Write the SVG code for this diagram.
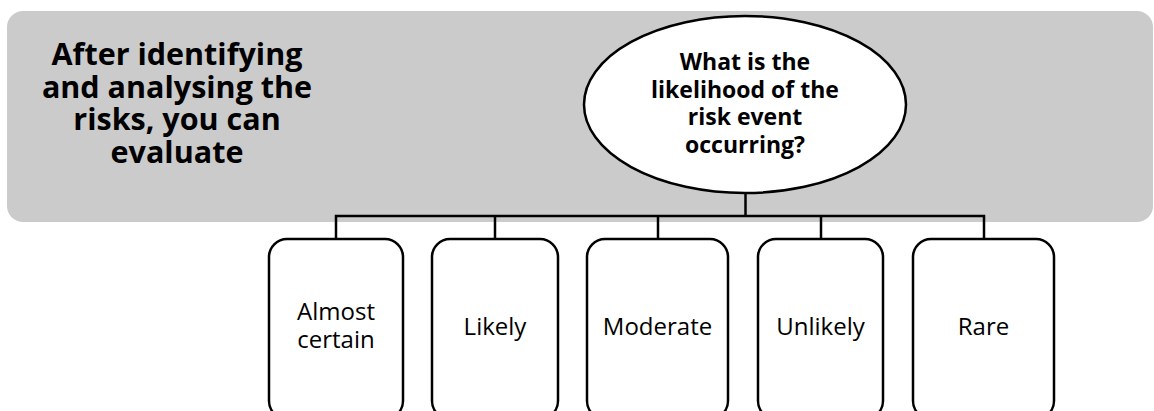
<svg xmlns="http://www.w3.org/2000/svg" width="1154" height="411" viewBox="0 0 1154 411">
  <style>
    .panel { fill: #cbcbcb; }
    .bubble { fill: #ffffff; stroke: #000000; stroke-width: 2.5; }
    .box { fill: #ffffff; stroke: #000000; stroke-width: 2.5; }
    .wire { fill: none; stroke: #000000; stroke-width: 2.5; }
    .title { font-family: "Open Sans", "Liberation Sans", sans-serif; font-weight: bold; font-size: 30.5px; fill: #000000; text-anchor: middle; }
    .question { font-family: "Open Sans", "Liberation Sans", sans-serif; font-weight: bold; font-size: 23px; fill: #000000; text-anchor: middle; }
    .label { font-family: "Open Sans", "Liberation Sans", sans-serif; font-size: 24px; fill: #000000; text-anchor: middle; }
  </style>

  <!-- grey background panel -->
  <rect id="panel" class="panel" x="7" y="11" width="1146" height="211" rx="16" ry="16"/>

  <g id="intro">
    <text class="title" x="177" y="65">After identifying</text>
    <text class="title" x="177" y="97.5">and analysing the</text>
    <text class="title" x="177" y="130">risks, you can</text>
    <text class="title" x="177" y="162.5">evaluate</text>
  </g>

  <!-- tree connectors -->
  <g id="connectors">
    <path class="wire" d="M745.5 193 V216"/>
    <path class="wire" d="M336 239 V216 H984 V239"/>
    <path class="wire" d="M495 216 V239"/>
    <path class="wire" d="M658 216 V239"/>
    <path class="wire" d="M821 216 V239"/>
  </g>

  <g id="question">
    <ellipse class="bubble" cx="745" cy="104.5" rx="161" ry="88.5"/>
    <text class="question" x="745" y="70">What is the</text>
    <text class="question" x="745" y="97.7">likelihood of the</text>
    <text class="question" x="745" y="125.4">risk event</text>
    <text class="question" x="745" y="153">occurring?</text>
  </g>

  <g id="almost-certain">
    <rect class="box" x="269" y="239" width="134" height="180" rx="18" ry="18"/>
    <text class="label" x="336" y="320">Almost</text>
    <text class="label" x="336" y="348">certain</text>
  </g>

  <g id="likely">
    <rect class="box" x="432" y="239" width="126" height="180" rx="18" ry="18"/>
    <text class="label" x="495" y="335">Likely</text>
  </g>

  <g id="moderate">
    <rect class="box" x="587" y="239" width="141" height="180" rx="18" ry="18"/>
    <text class="label" x="657.5" y="335">Moderate</text>
  </g>

  <g id="unlikely">
    <rect class="box" x="758" y="239" width="125" height="180" rx="18" ry="18"/>
    <text class="label" x="820.5" y="335">Unlikely</text>
  </g>

  <g id="rare">
    <rect class="box" x="913" y="239" width="141" height="180" rx="18" ry="18"/>
    <text class="label" x="983.5" y="335">Rare</text>
  </g>
</svg>
